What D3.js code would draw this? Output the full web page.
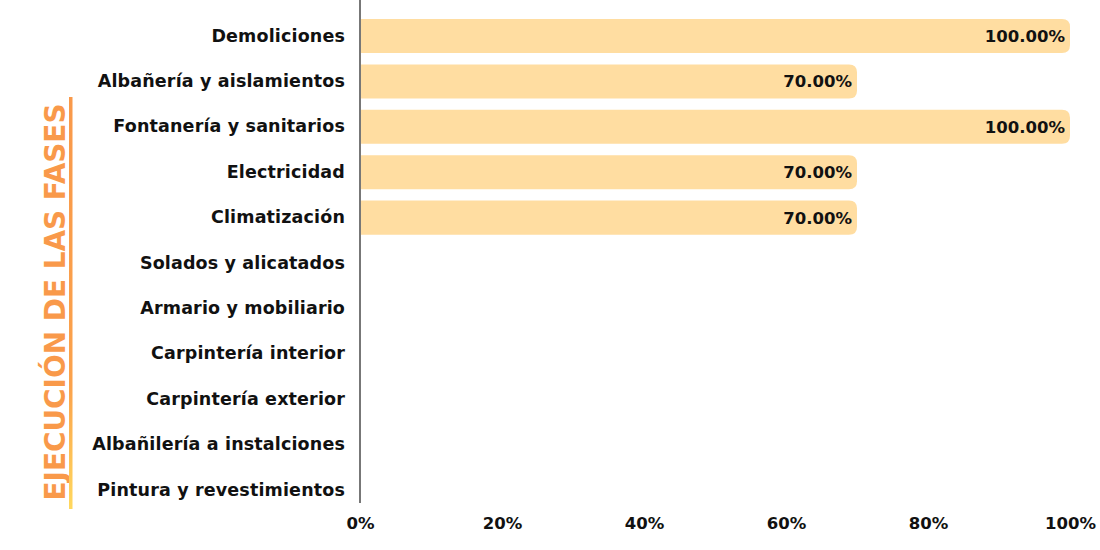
<!DOCTYPE html>
<html><head><meta charset="utf-8">
<script src="https://cdn.jsdelivr.net/npm/d3@7"></script>
<style>body{margin:0;background:#fff}svg{display:block}</style>
</head><body>
<svg id="c" width="1100" height="550"></svg>
<script>
const categories = ["Demoliciones","Albañería y aislamientos","Fontanería y sanitarios","Electricidad","Climatización","Solados y alicatados","Armario y mobiliario","Carpintería interior","Carpintería exterior","Albañilería a instalciones","Pintura y revestimientos"];
const values = [100,70,100,70,70,0,0,0,0,0,0];
const tickValues = [0,20,40,60,80,100];
const title = "EJECUCIÓN DE LAS FASES";

const FONT = "'DejaVu Sans', sans-serif";
const svg = d3.select("#c");
const x = d3.scaleLinear().domain([0,100]).range([360,1070]);
const y = d3.scaleBand().domain(categories).range([13.3,512.7]).paddingInner(0.25).paddingOuter(0.125);

const defs = svg.append("defs");
const g = defs.append("linearGradient").attr("id","og").attr("gradientUnits","userSpaceOnUse")
  .attr("x1",0).attr("y1",97).attr("x2",0).attr("y2",509);
g.append("stop").attr("offset","0%").attr("stop-color","#F9994A");
g.append("stop").attr("offset","70%").attr("stop-color","#FBA24C");
g.append("stop").attr("offset","100%").attr("stop-color","#FFD85E");

const r = 8;
function barPath(d){
  const x0 = x(0), x1 = x(d.v), y0 = y(d.c), h = y.bandwidth();
  if (d.v<=0) return "";
  const rr = Math.min(r, (x1-x0), h/2);
  return `M${x0},${y0}H${x1-rr}Q${x1},${y0} ${x1},${y0+rr}V${y0+h-rr}Q${x1},${y0+h} ${x1-rr},${y0+h}H${x0}Z`;
}
const data = categories.map((c,i)=>({c, v: values[i]}));
svg.append("g").selectAll("path").data(data).join("path")
  .attr("d", barPath).attr("fill","#FFDDA1");

svg.append("g").selectAll("text").data(data.filter(d=>d.v>0)).join("text")
  .attr("x", d=>x(d.v)-5).attr("y", d=>y(d.c)+y.bandwidth()/2).attr("dy","0.36em")
  .attr("text-anchor","end").attr("font-family",FONT).attr("font-weight",600)
  .attr("font-size",16.5).attr("fill","#111").text(d=>d.v.toFixed(2)+"%");

const ya = svg.append("g").attr("transform","translate(360,0)")
  .call(d3.axisLeft(y).tickSize(0).tickPadding(15));
ya.select(".domain").attr("d","M0,0V503").attr("stroke","#777").attr("stroke-width",2);
ya.selectAll("text").attr("font-family",FONT).attr("font-weight",600).attr("font-size",17.5)
  .attr("letter-spacing",0.15).attr("fill","#111");

const xa = svg.append("g").attr("transform","translate(0,503)")
  .call(d3.axisBottom(x).tickValues(tickValues).tickFormat(d=>d+"%").tickSize(0).tickPadding(14));
xa.select(".domain").remove();
xa.selectAll("text").attr("font-family",FONT).attr("font-weight",600).attr("font-size",16.5).attr("fill","#111");

svg.append("text").attr("transform","translate(65,302) rotate(-90)")
  .attr("text-anchor","middle").attr("font-family",FONT).attr("font-weight",700)
  .attr("font-size",28).attr("fill","url(#og)").attr("textLength",397).attr("lengthAdjust","spacingAndGlyphs")
  .text(title);
svg.append("rect").attr("x",69).attr("y",97).attr("width",3.5).attr("height",412).attr("fill","url(#og)");
</script>
</body></html>
